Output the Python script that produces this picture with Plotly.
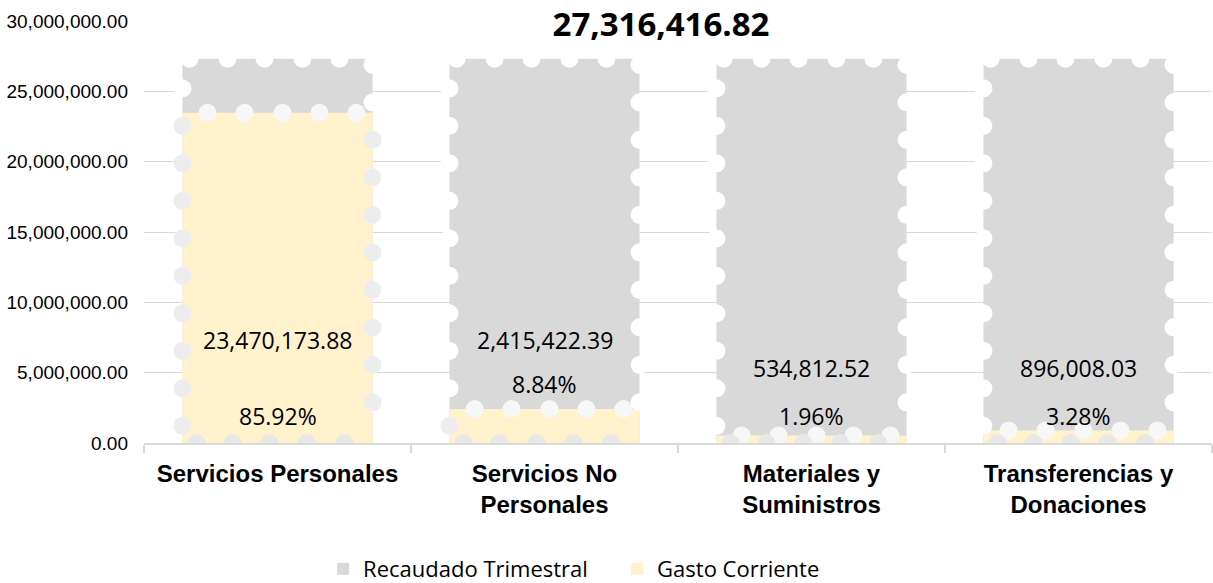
import plotly.graph_objects as go

# ---------------- data ----------------
categories = ["Servicios Personales", "Servicios No<br>Personales",
              "Materiales y<br>Suministros", "Transferencias y<br>Donaciones"]
recaudado_total = 27316416.82
recaudado = [27316416.82, 27316416.82, 27316416.82, 27316416.82]
gasto = [23470173.88, 2415422.39, 534812.52, 896008.03]
y_tick_values = [0, 5000000, 10000000, 15000000, 20000000, 25000000, 30000000]
y_tick_labels = [f"{v:,.2f}" for v in y_tick_values]

# label placement (style, in data units)
value_label_y = [7320000, 7320000, 5330000, 5330000]
pct_label_y = [1920000, 4190000, 1920000, 1920000]

# ---------------- styling ----------------
GRAY = "#D9D9D9"
YELLOW = "#FFF2CC"
BAR_W = 0.712
Y_MAX = 30000000
PLOT_H_PX = 422.0
CAT_PX = 267.3
px_x = 1.0 / CAT_PX            # x units per pixel
px_y = Y_MAX / PLOT_H_PX       # y units per pixel
xs = list(range(len(categories)))

fig = go.Figure()
fig.add_trace(go.Bar(x=xs, y=recaudado, name="Recaudado Trimestral",
                     marker=dict(color=GRAY, line=dict(width=0)), width=BAR_W,
                     hoverinfo="skip"))
fig.add_trace(go.Bar(x=xs, y=gasto, name="Gasto Corriente",
                     marker=dict(color=YELLOW, line=dict(width=0)), width=BAR_W,
                     hoverinfo="skip"))

# decorative soft-edge dots derived from bar geometry
half = BAR_W / 2
dot_x, dot_y, dot_c = [], [], []
for i in xs:
    top = recaudado[i]
    g = gasto[i]
    # gray top edge
    for off in [-88, -50, -13, 25, 62, 95]:
        dot_x.append(i + off * px_x); dot_y.append(top - (6 * px_y if off == 95 else 0)); dot_c.append("#FFFFFF")
    # sides
    for side, start in [(-1, 2.1e6), (1, 3.1e6)]:
        yv = top - start
        while yv > 0.3e6:
            dot_x.append(i + side * half)
            dot_y.append(yv)
            dot_c.append("#FFFFFF" if yv > g else "#EDEDED")
            yv -= 37.5 * px_y
    # yellow top edge
    for off in [-70, -33, 5, 42, 79]:
        dot_x.append(i + off * px_x); dot_y.append(g); dot_c.append("#F7F7F7")
    # bottom edge
    for off in [-81, -45, -8, 29, 67]:
        dot_x.append(i + off * px_x); dot_y.append(0); dot_c.append("#E8E8E8")

fig.add_trace(go.Scatter(x=dot_x, y=dot_y, mode="markers", showlegend=False,
                         hoverinfo="skip", cliponaxis=True,
                         marker=dict(size=18, color=dot_c, line=dict(width=0))))

# data labels
for i in xs:
    fig.add_annotation(x=i, y=value_label_y[i], text=f"{gasto[i]:,.2f}",
                       showarrow=False, font=dict(family="Open Sans", size=23, color="#000"))
    fig.add_annotation(x=i, y=pct_label_y[i], text=f"{gasto[i] / recaudado[i] * 100:.2f}%",
                       showarrow=False, font=dict(family="Open Sans", size=23, color="#000"))

fig.update_layout(
    width=1213, height=583,
    barmode="overlay",
    plot_bgcolor="white", paper_bgcolor="white",
    margin=dict(l=144, r=1, t=21, b=140),
    title=dict(text=f"<b>{recaudado_total:,.2f}</b>", x=661 / 1213, xanchor="center",
               y=1 - 24 / 583, yanchor="middle", yref="container",
               font=dict(family="Open Sans", size=33, color="#000")),
    showlegend=True,
    legend=dict(orientation="h", x=0.443, xanchor="center", yref="container",
                y=14 / 583, yanchor="middle", entrywidth=249,
                font=dict(family="Open Sans", size=22, color="#000"),
                traceorder="normal", itemwidth=30),
    xaxis=dict(range=[-0.5, 3.5], tickvals=xs, ticktext=categories, ticks="",
               showgrid=False, zeroline=False, showline=True, linecolor=GRAY, linewidth=1.5,
               tickfont=dict(family="Liberation Sans", size=24, color="#000", weight="bold"),
               ticklabelstandoff=8,
               minor=dict(tickvals=[-0.5, 0.5, 1.5, 2.5, 3.5], ticks="outside",
                          ticklen=8, tickcolor=GRAY, tickwidth=1.5, showgrid=False)),
    yaxis=dict(range=[0, Y_MAX], tickvals=y_tick_values, ticktext=y_tick_labels,
               showgrid=True, gridcolor=GRAY, gridwidth=1.3, zeroline=False,
               ticks="", ticklabelstandoff=15, automargin=False,
               tickfont=dict(family="Liberation Sans", size=19, color="#000")),
)

fig.write_html("out.html", config={"displayModeBar": False},
               post_script="document.body.style.margin='0';")
